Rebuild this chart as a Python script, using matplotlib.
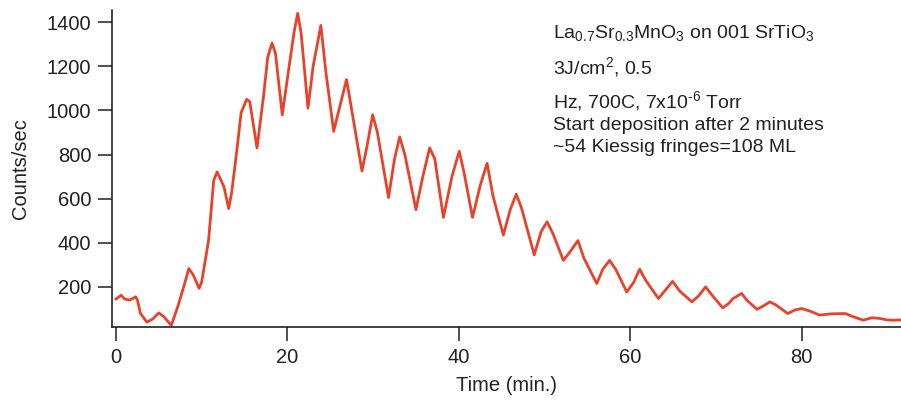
import matplotlib
matplotlib.use("Agg")
import matplotlib.pyplot as plt

plt.rcParams["font.family"] = ["Liberation Sans", "DejaVu Sans"]
plt.rcParams["mathtext.fontset"] = "custom"
plt.rcParams["mathtext.rm"] = "Liberation Sans"
plt.rcParams["mathtext.it"] = "Liberation Sans"
plt.rcParams["mathtext.bf"] = "Liberation Sans:bold"

# RHEED intensity during growth (time in minutes, counts per second)
time_min = [
    0.0, 0.6, 1.0, 1.6, 2.3, 2.5, 2.85, 3.6, 4.3, 5.0, 5.6, 6.45, 7.2, 7.9,
    8.5, 9.0, 9.7, 10.0, 10.8, 11.4, 11.8, 12.6, 13.15, 13.5, 14.1, 14.6,
    15.25, 15.6, 16.45, 17.2, 17.7, 18.2, 18.6, 19.4, 20.2, 20.8, 21.2, 21.6,
    22.4, 23.0, 23.9, 24.5, 25.4, 26.0, 26.9, 27.6, 28.7, 29.3, 29.95, 30.5,
    31.8, 32.5, 33.1, 33.7, 35.0, 35.8, 36.6, 37.2, 38.2, 39.2, 40.05, 40.6,
    41.6, 42.5, 43.3, 44.0, 45.2, 46.0, 46.7, 47.3, 48.8, 49.6, 50.3, 51.0,
    52.2, 53.0, 53.9, 54.6, 56.1, 56.8, 57.6, 58.3, 59.6, 60.4, 61.1, 61.8,
    63.3, 64.2, 64.95, 65.8, 67.2, 68.0, 68.8, 69.6, 70.8, 71.5, 72.0, 73.0,
    73.6, 74.8, 75.6, 76.3, 77.0, 78.4, 79.2, 80.0, 81.0, 82.1, 83.5, 85.1,
    86.0, 87.2, 88.2, 89.1, 90.0, 90.7, 91.6,
]
counts = [
    145, 162, 145, 140, 155, 140, 80, 40, 55, 82, 64, 25, 110, 200,
    283, 255, 193, 223, 411, 683, 721, 653, 555, 630, 819, 990,
    1050, 1040, 830, 1060, 1240, 1305, 1260, 980, 1200, 1360, 1440, 1350,
    1010, 1200, 1385, 1170, 905, 1000, 1140, 980, 725, 840, 980, 900,
    605, 780, 880, 800, 550, 700, 830, 780, 515, 700, 815, 720,
    515, 660, 760, 610, 435, 550, 620, 560, 345, 450, 495, 440,
    320, 360, 410, 330, 215, 280, 320, 280, 177, 220, 280, 230,
    147, 190, 225, 180, 132, 160, 200, 160, 105, 125, 147, 170,
    140, 98, 115, 132, 118, 79, 95, 102, 90, 72, 78, 79,
    65, 49, 60, 57, 50, 49, 50,
]

x_ticks = [0, 20, 40, 60, 80]
y_ticks = [200, 400, 600, 800, 1000, 1200, 1400]

annotation_lines = [
    r"La$_{0.7}$Sr$_{0.3}$MnO$_{3}$ on 001 SrTiO$_{3}$",
    r"3J/cm$^{2}$, 0.5",
    r"Hz, 700C, 7x10$^{\text{-6}}$ Torr",
    "Start deposition after 2 minutes",
    "~54 Kiessig fringes=108 ML",
]
annotation_y = [33, 67, 101, 125, 148]

fig = plt.figure(figsize=(9.01, 4.0), dpi=100)
ax = fig.add_axes([0.1243, 0.183, 0.8757, 0.792])

ax.plot(time_min, counts, color="#e8432a", lw=2.0, solid_joinstyle="round")

ax.set_xlim(-0.47, 91.6)
ax.set_ylim(19, 1455)
ax.set_xticks(x_ticks)
ax.set_yticks(y_ticks)

for side in ("top", "right"):
    ax.spines[side].set_visible(False)
for side in ("left", "bottom"):
    ax.spines[side].set_linewidth(1.2)
    ax.spines[side].set_color("#222222")

ax.tick_params(axis="both", direction="out", length=10, width=1.1,
               color="#222222", labelsize=14.5, labelcolor="#222222", pad=5)

ax.set_xlabel("Time (min.)", fontsize=14.5, color="#222222", labelpad=7)
ax.set_ylabel("Counts/sec", fontsize=14.5, color="#222222", labelpad=12)

for text, ypix in zip(annotation_lines, annotation_y):
    fig.text(553 / 901, 1 - ypix / 400, text, fontsize=14, color="#222222",
             ha="left", va="center")

fig.savefig("out.png", dpi=100, facecolor="white")
